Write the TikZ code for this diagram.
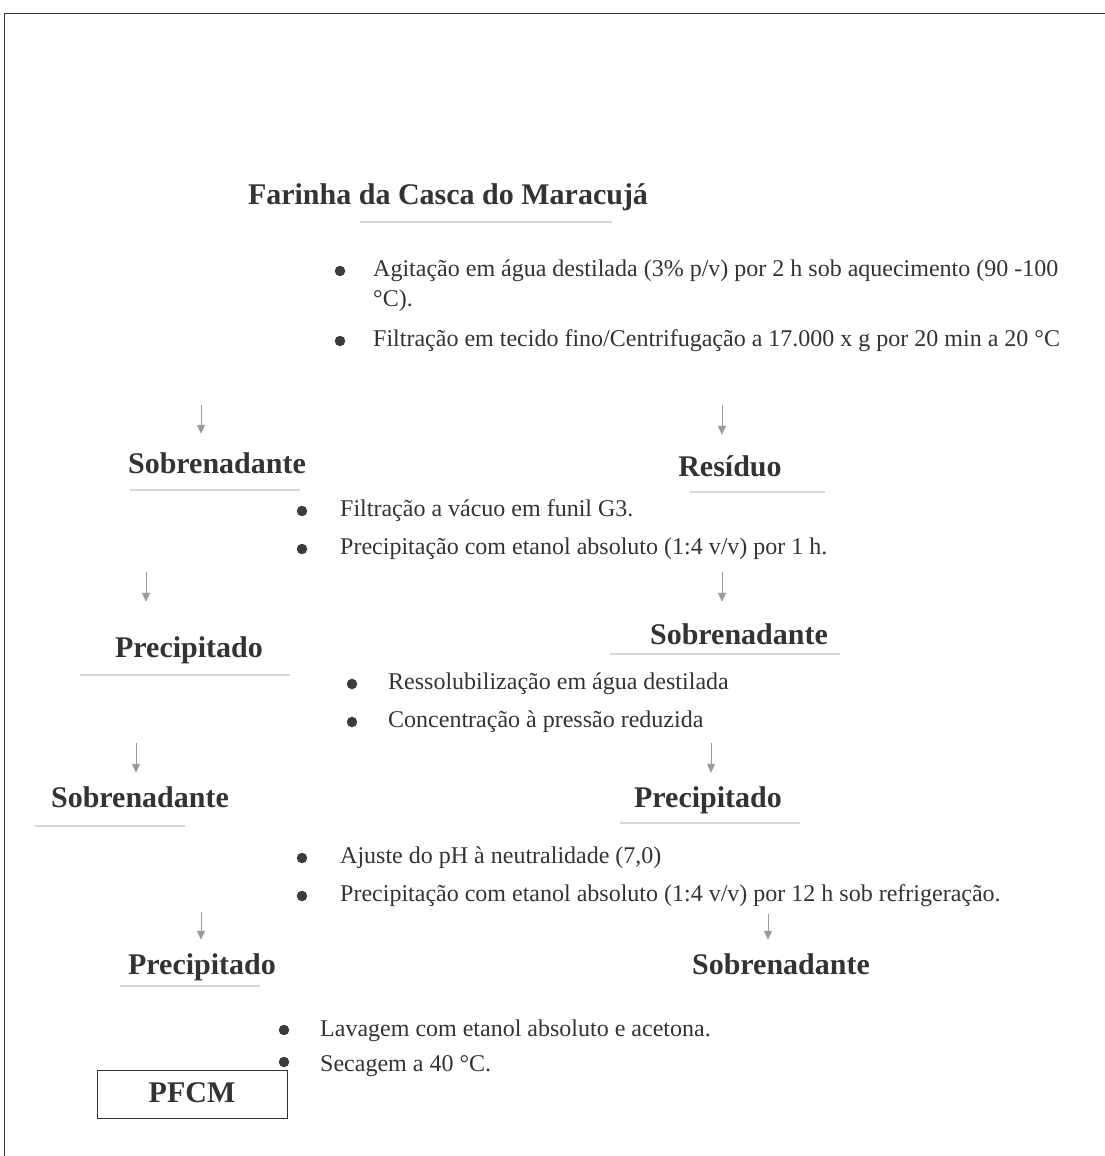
\documentclass[tikz,border=0pt]{standalone}
\usepackage{fontspec}
\setmainfont{Liberation Serif}
\usetikzlibrary{positioning, arrows.meta}
\definecolor{ink}{HTML}{333333}
\definecolor{arrowgray}{HTML}{9a9a9a}
\definecolor{rulegray}{HTML}{d8d8d8}
\definecolor{dotgray}{HTML}{3c3c3c}

\begin{document}
\begin{tikzpicture}[x=1pt, y=-1pt, lbl/.style={font=\fontsize{30}{34}\selectfont\bfseries, text=ink, inner sep=0pt, text height=22pt, text depth=6pt}, stepline/.style={anchor=west, font=\fontsize{24}{28}\selectfont, text=ink, inner sep=0pt}, dot/.style={circle, fill=dotgray, inner sep=0pt, minimum size=10.5pt}, flow/.style={draw=arrowgray, thick, -{Triangle[width=8pt,length=9pt]}}, uline/.style={draw=rulegray, line width=1.5pt}]
\useasboundingbox (0,0) rectangle (1105,1156);
\draw[line width=1pt, ink] (4,1156) -- (4,14) -- (1105,14);
% labels
\node[lbl] (farinha) at (448,196) {Farinha da Casca do Maracujá};
\node[lbl] (sob1) at (217,465) {Sobrenadante};
\node[lbl] (resid) at (730,468) {Resíduo};
\node[lbl] (prec1) at (189,649) {Precipitado};
\node[lbl] (sob2) at (739,636) {Sobrenadante};
\node[lbl] (sob3) at (140,799) {Sobrenadante};
\node[lbl] (prec2) at (708,799) {Precipitado};
\node[lbl] (prec3) at (202,966) {Precipitado};
\node[lbl] (sob4) at (781,966) {Sobrenadante};
\node[lbl, draw=ink, line width=0.8pt, minimum width=190pt, minimum height=48pt] (pfcm) at (192,1094) {PFCM};
% underlines
\draw[uline] (360,222) -- (612,222);
\draw[uline] (130,490) -- (300,490);
\draw[uline] (690,492) -- (825,492);
\draw[uline] (80,675) -- (290,675);
\draw[uline] (610,654) -- (840,654);
\draw[uline] (35,826) -- (185,826);
\draw[uline] (620,823) -- (800,823);
\draw[uline] (120,986) -- (260,986);
% steps
\node[dot] (d1) at (340,271) {};
\node[stepline] (s1) at (373,271) {Agitação em água destilada (3\% p/v) por 2 h sob aquecimento (90 -100};
\node[stepline] (s1b) at (373,301) {°C).};
\node[dot] (d2) at (340,341) {};
\node[stepline] (s2) at (373,341) {Filtração em tecido fino/Centrifugação a 17.000 x g por 20 min a 20 °C};
\node[dot] (d3) at (302,511) {};
\node[stepline] (s3) at (340,511) {Filtração a vácuo em funil G3.};
\node[dot] (d4) at (302,549) {};
\node[stepline] (s4) at (340,549) {Precipitação com etanol absoluto (1:4 v/v) por 1 h.};
\node[dot] (d5) at (352,684) {};
\node[stepline] (s5) at (388,684) {Ressolubilização em água destilada};
\node[dot] (d6) at (352,722) {};
\node[stepline] (s6) at (388,722) {Concentração à pressão reduzida};
\node[dot] (d7) at (302,858) {};
\node[stepline] (s7) at (340,858) {Ajuste do pH à neutralidade (7,0)};
\node[dot] (d8) at (302,896) {};
\node[stepline] (s8) at (340,896) {Precipitação com etanol absoluto (1:4 v/v) por 12 h sob refrigeração.};
\node[dot] (d9) at (284,1030) {};
\node[stepline] (s9) at (320,1031) {Lavagem com etanol absoluto e acetona.};
\node[dot] (d10) at (284,1062) {};
\node[stepline] (s10) at (320,1066) {Secagem a 40 °C.};
% arrows
\coordinate (a1) at (201,405);
\coordinate (a2) at (722,405);
\coordinate (a3) at (146,572);
\coordinate (a4) at (722,572);
\coordinate (a5) at (136,743);
\coordinate (a6) at (711,743);
\coordinate (a7) at (201,912);
\coordinate (a8) at (768,914);
\draw[flow, shorten >=17pt] (a1) -- (a1 |- sob1.north);
\draw[flow, shorten >=19pt] (a2) -- (a2 |- resid.north);
\draw[flow, shorten >=33pt] (a3) -- (a3 |- prec1.north);
\draw[flow, shorten >=20pt] (a4) -- (a4 |- sob2.north);
\draw[flow, shorten >=12pt] (a5) -- (a5 |- sob3.north);
\draw[flow, shorten >=12pt] (a6) -- (a6 |- prec2.north);
\draw[flow, shorten >=12pt] (a7) -- (a7 |- prec3.north);
\draw[flow, shorten >=12pt] (a8) -- (a8 |- sob4.north);
\end{tikzpicture}
\end{document}
